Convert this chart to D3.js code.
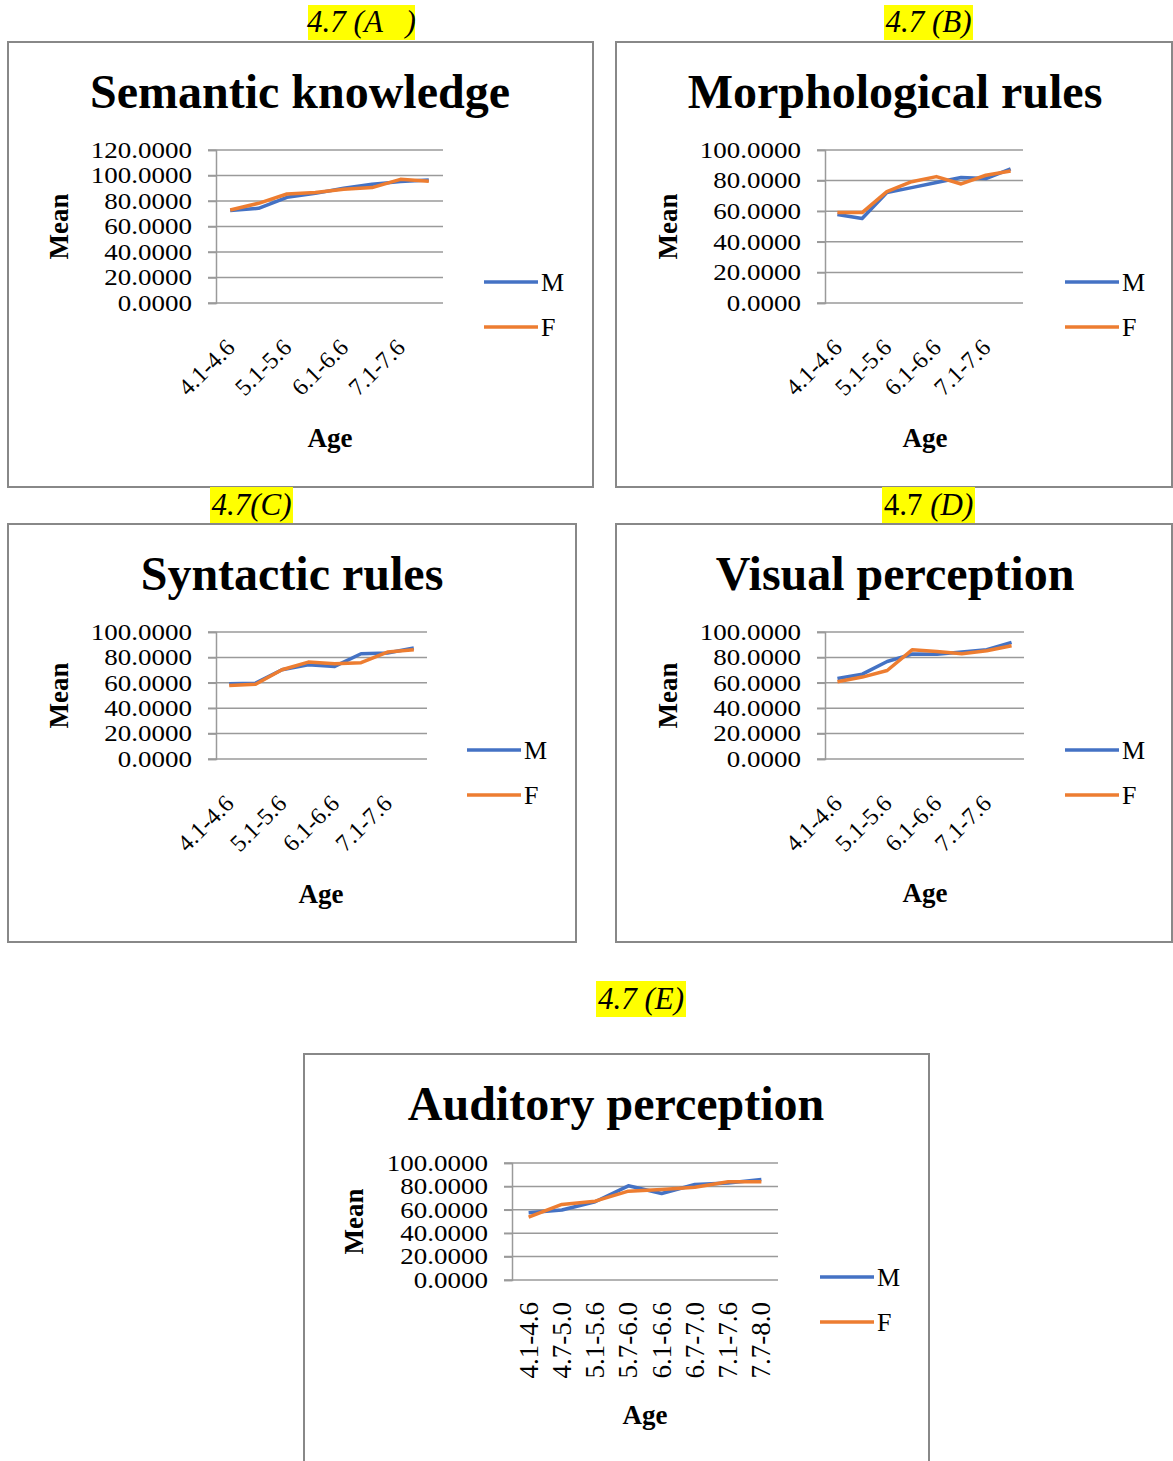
<!DOCTYPE html>
<html>
<head>
<meta charset="utf-8">
<script src="https://cdn.jsdelivr.net/npm/d3@7"></script>
<style>
  body { margin: 0; background: #fff; }
  text { font-family: "Liberation Serif", "Times New Roman", serif; }
</style>
</head>
<body>
<div id="chart"></div>
<script>
// age groups (x categories)
const ages = ["4.1-4.6", "4.7-5.0", "5.1-5.6", "5.7-6.0", "6.1-6.6", "6.7-7.0", "7.1-7.6", "7.7-8.0"];
const seriesNames = ["M", "F"];

// mean scores
const semanticM = [72.5, 74.3, 82.9, 86.0, 90.0, 93.1, 95.2, 96.5];
const semanticF = [73.0, 78.2, 85.5, 86.6, 89.2, 90.5, 97.0, 95.4];
const morphM = [57.8, 55.2, 72.2, 75.4, 78.7, 82.0, 81.3, 87.6];
const morphF = [59.1, 59.1, 72.8, 79.3, 82.6, 77.8, 83.5, 86.3];
const syntaxM = [59.2, 59.7, 70.3, 74.2, 72.9, 82.9, 83.4, 87.4];
const syntaxF = [57.9, 58.9, 70.3, 76.3, 75.0, 75.8, 84.2, 86.0];
const visualM = [63.4, 66.8, 76.8, 82.6, 82.4, 84.2, 86.0, 91.8];
const visualF = [60.8, 64.5, 69.7, 86.0, 84.7, 82.9, 85.3, 89.2];
const auditoryM = [57.5, 59.8, 66.9, 80.5, 73.9, 81.6, 83.0, 85.8];
const auditoryF = [53.8, 64.6, 67.4, 75.9, 77.3, 79.3, 83.9, 83.9];

const yMaxA = 120, yMaxRest = 100, yStep = 20;

const colors = { M: "#4472C4", F: "#ED7D31" };
const W = 1173, H = 1461;
const tickStretch = 1.2; // the tick numbers in the scan are wider than plain Times

// layout of the five panels
const panels = [
  { title: "Semantic knowledge", tag: [["4.7 (A   )", true]], M: semanticM, F: semanticF, yMax: yMaxA,
    box: [8, 42, 593, 487], tagBox: [308, 5, 415, 40], titleY: 108, titleX: 300,
    plot: [216, 150, 443, 303], legend: [484, 282], meanX: 58, ageX: 330, ageY: 447, rot: 45 },
  { title: "Morphological rules", tag: [["4.7 (B)", true]], M: morphM, F: morphF, yMax: yMaxRest,
    box: [616, 42, 1172, 487], tagBox: [884, 5, 973, 40], titleY: 108, titleX: 895,
    plot: [825, 150, 1023, 303], legend: [1065, 282], meanX: 667, ageX: 925, ageY: 447, rot: 45 },
  { title: "Syntactic rules", tag: [["4.7(C)", true]], M: syntaxM, F: syntaxF, yMax: yMaxRest,
    box: [8, 524, 576, 942], tagBox: [210, 487, 293, 523], titleY: 590, titleX: 292,
    plot: [216, 632, 427, 759], legend: [467, 750], meanX: 58, ageX: 321, ageY: 903, rot: 45 },
  { title: "Visual perception", tag: [["4.7 ", false], ["(D)", true]], M: visualM, F: visualF, yMax: yMaxRest,
    box: [616, 524, 1172, 942], tagBox: [882, 487, 975, 523], titleY: 590, titleX: 895,
    plot: [825, 632, 1024, 759], legend: [1065, 750], meanX: 667, ageX: 925, ageY: 902, rot: 45 },
  { title: "Auditory perception", tag: [["4.7 (E)", true]], M: auditoryM, F: auditoryF, yMax: yMaxRest,
    box: [304, 1054, 929, 1475], tagBox: [596, 981, 686, 1017], titleY: 1120, titleX: 616,
    plot: [512, 1163, 778, 1280], legend: [820, 1277], meanX: 353, ageX: 645, ageY: 1424, rot: 90 }
];

const svg = d3.select("#chart").append("svg")
  .attr("width", W)
  .attr("height", H)
  .style("display", "block");

function drawPanel(p) {
  const g = svg.append("g");
  const [bx0, by0, bx1, by1] = p.box;

  // frame
  g.append("rect")
    .attr("x", bx0).attr("y", by0)
    .attr("width", bx1 - bx0).attr("height", by1 - by0)
    .attr("fill", "#fff")
    .attr("stroke", "#888")
    .attr("stroke-width", 2);

  // yellow caption above the frame
  const [tx0, ty0, tx1, ty1] = p.tagBox;
  g.append("rect")
    .attr("x", tx0).attr("y", ty0)
    .attr("width", tx1 - tx0).attr("height", ty1 - ty0)
    .attr("fill", "#ffff00");
  const tag = g.append("text")
    .attr("x", (tx0 + tx1) / 2)
    .attr("y", ty1 - 8)
    .attr("text-anchor", "middle")
    .style("font-size", "31px")
    .style("white-space", "pre")
    .attr("xml:space", "preserve");
  p.tag.forEach(([s, it]) => tag.append("tspan").style("font-style", it ? "italic" : "normal").text(s));

  // title
  g.append("text")
    .attr("x", p.titleX).attr("y", p.titleY)
    .attr("text-anchor", "middle")
    .style("font-size", "48px")
    .style("font-weight", "bold")
    .text(p.title);

  const [px0, py0, px1, py1] = p.plot;
  const x = d3.scaleBand().domain(ages).range([px0, px1]);
  const y = d3.scaleLinear().domain([0, p.yMax]).range([py1, py0]);
  const cx = d => x(d) + x.bandwidth() / 2;

  // gridlines
  const ticks = d3.range(0, p.yMax + 1, yStep);
  g.append("g")
    .selectAll("line")
    .data(ticks)
    .join("line")
    .attr("x1", px0 - 8).attr("x2", px1)
    .attr("y1", d => y(d)).attr("y2", d => y(d))
    .attr("stroke", "#9a9a9a")
    .attr("stroke-width", 1.5);

  // y axis
  const yAxis = g.append("g")
    .attr("transform", `translate(${px0},0)`)
    .call(d3.axisLeft(y).tickValues(ticks).tickFormat(d3.format(".4f")).tickSize(8).tickPadding(16));
  yAxis.select(".domain").attr("stroke", "#9a9a9a").attr("stroke-width", 1.5);
  yAxis.selectAll(".tick line").attr("stroke", "#9a9a9a").attr("stroke-width", 1.5);
  yAxis.selectAll(".tick text")
    .attr("fill", "#000")
    .attr("x", -24 / tickStretch)
    .attr("transform", `scale(${tickStretch},1)`)
    .style("font-size", "22.5px")
    .style("font-family", "Liberation Serif, serif");

  // x labels
  const xl = g.append("g");
  if (p.rot === 45) {
    xl.selectAll("text")
      .data(ages.filter((d, i) => i % 2 === 0))
      .join("text")
      .attr("transform", d => `translate(${cx(d) + 6},${py1 + 46}) rotate(-45)`)
      .attr("text-anchor", "end")
      .style("font-size", "24px")
      .text(d => d);
  } else {
    xl.selectAll("text")
      .data(ages)
      .join("text")
      .attr("transform", d => `translate(${cx(d) + 9},${py1 + 22}) rotate(-90)`)
      .attr("text-anchor", "end")
      .style("font-size", "27px")
      .text(d => d);
  }

  // axis titles
  g.append("text")
    .attr("transform", `translate(${p.meanX + 10},${(py0 + py1) / 2}) rotate(-90)`)
    .attr("text-anchor", "middle")
    .style("font-size", "27px")
    .style("font-weight", "bold")
    .text("Mean");
  g.append("text")
    .attr("x", p.ageX).attr("y", p.ageY)
    .attr("text-anchor", "middle")
    .style("font-size", "27px")
    .style("font-weight", "bold")
    .text("Age");

  // series lines
  const line = d3.line()
    .x((d, i) => cx(ages[i]))
    .y(d => y(d));
  seriesNames.forEach(s => {
    g.append("path")
      .datum(p[s])
      .attr("d", line)
      .attr("fill", "none")
      .attr("stroke", colors[s])
      .attr("stroke-width", 3.5)
      .attr("stroke-linejoin", "round");
  });

  // legend
  const [lx, ly] = p.legend;
  const leg = g.append("g")
    .selectAll("g")
    .data(seriesNames)
    .join("g")
    .attr("transform", (d, i) => `translate(${lx},${ly + i * 45})`);
  leg.append("line")
    .attr("x1", 0).attr("x2", 54)
    .attr("stroke", d => colors[d])
    .attr("stroke-width", 3.5);
  leg.append("text")
    .attr("x", 57).attr("y", 9)
    .style("font-size", "26px")
    .text(d => d);
}

panels.forEach(drawPanel);
</script>
</body>
</html>
